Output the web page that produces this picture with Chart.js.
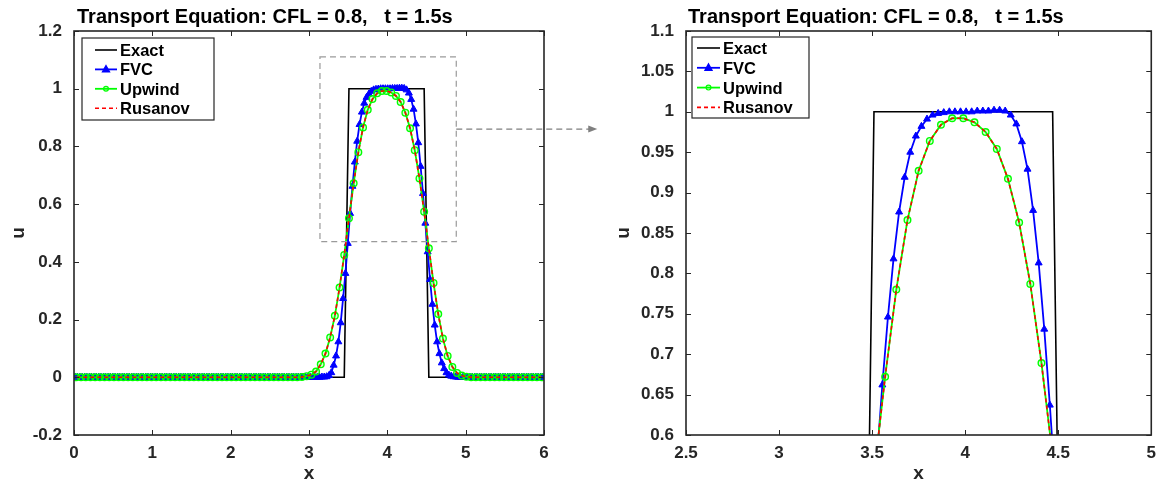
<!DOCTYPE html>
<html>
<head>
<meta charset="utf-8">
<script src="https://cdn.jsdelivr.net/npm/chart.js@4.4.1/dist/chart.umd.min.js"></script>
<style>
  html, body { margin: 0; padding: 0; background: #fff; }
  #wrap { position: relative; width: 1164px; height: 486px; }
  #cL { position: absolute; left: 0; top: 0; }
  #cR { position: absolute; left: 600px; top: 0; }
</style>
</head>
<body>
<div id="wrap">
  <canvas id="cL" width="600" height="486"></canvas>
  <canvas id="cR" width="564" height="486"></canvas>
</div>
<script>
const TITLE = "Transport Equation: CFL = 0.8,   t = 1.5s";
const seriesNames = ["Exact", "FVC", "Upwind", "Rusanov"];

// grids: Exact / Upwind / Rusanov on 100 cells, FVC on 200 cells over [0, 6]
const xCoarse = Array.from({ length: 100 }, (_, i) => +(0.03 + 0.06 * i).toFixed(3));
const xFine = Array.from({ length: 200 }, (_, i) => +(0.015 + 0.03 * i).toFixed(3));

const exactU = [
  0,0,0,0,0,0,0,0,0,0, 0,0,0,0,0,0,0,0,0,0, 0,0,0,0,0,0,0,0,0,0, 0,0,0,0,0,0,0,0,0,0,
  0,0,0,0,0,0,0,0,0,0, 0,0,0,0,0,0,0,0,1,1, 1,1,1,1,1,1,1,1,1,1, 1,1,1,1,1,0,0,0,0,0,
  0,0,0,0,0,0,0,0,0,0, 0,0,0,0,0,0,0,0,0,0
];

const upwindU = [
  0,0,0,0,0,0,0,0,0,0, 0,0,0,0,0,0,0,0,0,0, 0,0,0,0,0,0,0,0,0,0, 0,0,0,0,0,0,0,0,0,0,
  0,0,0,0,0,0,0,0,0.001,0.004,
  0.009,0.020,0.045,0.082,0.138,0.213,0.311,0.424,0.551,0.672,
  0.780,0.866,0.927,0.964,0.984,0.992,0.992,0.987,0.975,0.954,
  0.917,0.863,0.787,0.689,0.574,0.447,0.327,0.219,0.134,0.074,
  0.036,0.015,0.006,0.002,0,0,0,0,0,0,
  0,0,0,0,0,0,0,0,0,0
];

const rusanovU = [
  0,0,0,0,0,0,0,0,0,0, 0,0,0,0,0,0,0,0,0,0, 0,0,0,0,0,0,0,0,0,0, 0,0,0,0,0,0,0,0,0,0,
  0,0,0,0,0,0,0,0,0.001,0.004,
  0.009,0.020,0.045,0.082,0.138,0.213,0.311,0.424,0.551,0.672,
  0.780,0.866,0.927,0.964,0.984,0.992,0.992,0.987,0.975,0.954,
  0.917,0.863,0.787,0.689,0.574,0.447,0.327,0.219,0.134,0.074,
  0.036,0.015,0.006,0.002,0,0,0,0,0,0,
  0,0,0,0,0,0,0,0,0,0
];

const fvcU = [
  0,0,0,0,0,0,0,0,0,0, 0,0,0,0,0,0,0,0,0,0, 0,0,0,0,0,0,0,0,0,0, 0,0,0,0,0,0,0,0,0,0,
  0,0,0,0,0,0,0,0,0,0, 0,0,0,0,0,0,0,0,0,0, 0,0,0,0,0,0,0,0,0,0, 0,0,0,0,0,0,0,0,0,0,
  0,0,0,0,0,0,0,0,0,0, 0,0,0,0,0,0,0,0,0,0,
  0,0,0,0,0,0.001,0.001,0.002,0.006,0.016,
  0.042,0.074,0.123,0.189,0.273,0.360,0.464,0.568,0.662,0.746,
  0.818,0.876,0.919,0.950,0.970,0.982,0.991,0.996,0.998,0.999,
  1.000,1.000,1.000,1.000,1.000,1.001,1.001,1.001,1.002,1.002,
  1.001,0.996,0.985,0.963,0.929,0.878,0.813,0.731,0.637,0.534,
  0.435,0.339,0.253,0.181,0.123,0.082,0.050,0.030,0.016,0.008,
  0.004,0.002,0.001,0,0,0,0,0,0,0,
  0,0,0,0,0,0,0,0,0,0, 0,0,0,0,0,0,0,0,0,0, 0,0,0,0,0,0,0,0,0,0
];

// axes
const xTicksLeft = [0, 1, 2, 3, 4, 5, 6];
const xTickLabelsLeft = ["0", "1", "2", "3", "4", "5", "6"];
const yTicksLeft = [-0.2, 0, 0.2, 0.4, 0.6, 0.8, 1, 1.2];
const yTickLabelsLeft = ["-0.2", "0", "0.2", "0.4", "0.6", "0.8", "1", "1.2"];
const xTicksRight = [2.5, 3, 3.5, 4, 4.5, 5];
const xTickLabelsRight = ["2.5", "3", "3.5", "4", "4.5", "5"];
const yTicksRight = [0.6, 0.65, 0.7, 0.75, 0.8, 0.85, 0.9, 0.95, 1, 1.05, 1.1];
const yTickLabelsRight = ["0.6", "0.65", "0.7", "0.75", "0.8", "0.85", "0.9", "0.95", "1", "1.05", "1.1"];

const FONT = '"Liberation Sans", Arial, Helvetica, sans-serif';
const AXIS_COLOR = "#262626";
Chart.defaults.font.family = FONT;

const toXY = (xs, ys) => xs.map((x, i) => ({ x: x, y: ys[i] }));

function line(ctx, x0, y0, x1, y1) {
  ctx.beginPath();
  ctx.moveTo(x0, y0);
  ctx.lineTo(x1, y1);
  ctx.stroke();
}

function drawMarker(ctx, style, cx, cy, r, fill, stroke) {
  ctx.save();
  ctx.setLineDash([]);
  ctx.fillStyle = fill;
  ctx.strokeStyle = stroke;
  ctx.lineWidth = 1.2;
  ctx.beginPath();
  if (style === "triangle") {
    ctx.moveTo(cx, cy - r * 1.1);
    ctx.lineTo(cx + r, cy + r * 0.7);
    ctx.lineTo(cx - r, cy + r * 0.7);
    ctx.closePath();
  } else {
    ctx.arc(cx, cy, r, 0, Math.PI * 2);
  }
  ctx.fill();
  ctx.stroke();
  ctx.restore();
}

// box, inner ticks, title, legend, zoom annotation
const framePlugin = {
  id: "frame",
  afterDatasetsDraw(chart, args, opts) {
    const { ctx, chartArea: a, scales: { x, y } } = chart;
    ctx.save();

    if (opts.zoomBox) {
      const z = opts.zoomBox;
      const x0 = x.getPixelForValue(z.x0), x1 = x.getPixelForValue(z.x1);
      const y0 = y.getPixelForValue(z.y1), y1 = y.getPixelForValue(z.y0);
      ctx.strokeStyle = "#9a9a9a";
      ctx.lineWidth = 1.2;
      ctx.setLineDash([6, 4]);
      ctx.strokeRect(x0, y0, x1 - x0, y1 - y0);
      // dashed arrow toward the zoomed view
      const ay = y.getPixelForValue(z.arrowY);
      const ax1 = x.getPixelForValue(z.arrowToX);
      ctx.strokeStyle = "#7f7f7f";
      line(ctx, x1, ay, ax1 - 6, ay);
      ctx.setLineDash([]);
      ctx.fillStyle = "#7f7f7f";
      ctx.beginPath();
      ctx.moveTo(ax1, ay);
      ctx.lineTo(ax1 - 9, ay - 3.5);
      ctx.lineTo(ax1 - 9, ay + 3.5);
      ctx.closePath();
      ctx.fill();
    }

    ctx.setLineDash([]);
    ctx.strokeStyle = AXIS_COLOR;
    ctx.lineWidth = 1;
    const tl = 5;
    x.ticks.forEach(t => {
      const px = Math.round(x.getPixelForValue(t.value)) + 0.5;
      line(ctx, px, a.bottom, px, a.bottom - tl);
      line(ctx, px, a.top, px, a.top + tl);
    });
    y.ticks.forEach(t => {
      const py = Math.round(y.getPixelForValue(t.value)) + 0.5;
      line(ctx, a.left, py, a.left + tl, py);
      line(ctx, a.right, py, a.right - tl, py);
    });
    ctx.lineWidth = 1.6;
    ctx.strokeRect(a.left, a.top, a.right - a.left, a.bottom - a.top);
    ctx.restore();
  },
  afterDraw(chart, args, opts) {
    const { ctx, chartArea: a } = chart;
    ctx.save();
    // title
    ctx.fillStyle = "#000";
    ctx.font = "bold 20px " + FONT;
    ctx.textAlign = "left";
    ctx.textBaseline = "alphabetic";
    ctx.fillText(TITLE, a.left + opts.titleDX, 23);

    // legend
    const L = opts.legend;
    const bx = a.left + L.dx, by = a.top + L.dy;
    ctx.fillStyle = "#fff";
    ctx.fillRect(bx, by, L.w, L.h);
    ctx.strokeStyle = AXIS_COLOR;
    ctx.lineWidth = 1.2;
    ctx.strokeRect(bx, by, L.w, L.h);
    ctx.font = "bold 16.5px " + FONT;
    chart.data.datasets.forEach((ds, i) => {
      const ry = by + L.row0 + i * L.rowGap;
      const s0 = bx + L.sample0, s1 = bx + L.sample1;
      ctx.strokeStyle = ds.borderColor;
      ctx.lineWidth = ds.borderWidth;
      ctx.setLineDash(ds.borderDash || []);
      line(ctx, s0, ry, s1, ry);
      ctx.setLineDash([]);
      if (ds.pointRadius > 0) {
        drawMarker(ctx, ds.pointStyle, (s0 + s1) / 2, ry, ds.pointStyle === "triangle" ? 3.6 : 2.4,
          ds.pointBackgroundColor, ds.pointBorderColor);
      }
      ctx.fillStyle = "#000";
      ctx.fillText(ds.label, bx + L.text, ry + 6);
    });
    ctx.restore();
  }
};

function makeChart(id, cfg) {
  const ctx = document.getElementById(id).getContext("2d");
  return new Chart(ctx, {
    type: "line",
    data: {
      datasets: [
        {
          label: seriesNames[0], data: toXY(xCoarse, exactU),
          borderColor: "#000000", borderWidth: 1.6, pointRadius: 0, order: 3
        },
        {
          label: seriesNames[1], data: toXY(xFine, fvcU),
          borderColor: "#0000ff", borderWidth: 1.8,
          pointStyle: "triangle", pointRadius: 4,
          pointBackgroundColor: "#0000ff", pointBorderColor: "#0000ff", pointBorderWidth: 1,
          order: 2
        },
        {
          label: seriesNames[2], data: toXY(xCoarse, upwindU),
          borderColor: "#00ff00", borderWidth: 1.8,
          pointStyle: "circle", pointRadius: 3.3,
          pointBackgroundColor: "rgba(0,255,0,0.15)", pointBorderColor: "#00ff00", pointBorderWidth: 1.4,
          order: 1
        },
        {
          label: seriesNames[3], data: toXY(xCoarse, rusanovU),
          borderColor: "#ff0000", borderWidth: 1.6, borderDash: [4, 3], pointRadius: 0, order: 0
        }
      ]
    },
    options: {
      responsive: false,
      animation: false,
      devicePixelRatio: 1,
      layout: { padding: { top: 31, right: cfg.padRight, left: 0, bottom: 0 } },
      elements: { line: { tension: 0 } },
      scales: {
        x: {
          type: "linear", min: cfg.xMin, max: cfg.xMax,
          afterBuildTicks: s => { s.ticks = cfg.xTicks.map(v => ({ value: v })); },
          afterFit: s => { s.height = 51; },
          grid: { display: false, drawTicks: false },
          border: { display: false },
          ticks: {
            autoSkip: false, maxRotation: 0, padding: 8, color: AXIS_COLOR,
            font: { size: 17, weight: "bold" },
            callback: (v, i) => cfg.xLabels[i]
          },
          title: {
            display: true, text: "x", color: AXIS_COLOR,
            font: { size: 19, weight: "bold" }, padding: { top: 0, bottom: 1 }
          }
        },
        y: {
          type: "linear", min: cfg.yMin, max: cfg.yMax,
          afterBuildTicks: s => { s.ticks = cfg.yTicks.map(v => ({ value: v })); },
          afterFit: s => { s.width = cfg.yAxisW; },
          grid: { display: false, drawTicks: false },
          border: { display: false },
          ticks: {
            autoSkip: false, padding: 12, color: AXIS_COLOR,
            font: { size: 17, weight: "bold" },
            callback: (v, i) => cfg.yLabels[i]
          },
          title: {
            display: true, text: "u", color: AXIS_COLOR,
            font: { size: 19, weight: "bold" }, padding: { top: cfg.uPad, bottom: 0 }
          }
        }
      },
      plugins: {
        legend: { display: false },
        tooltip: { enabled: false },
        frame: {
          titleDX: cfg.titleDX,
          legend: cfg.legend,
          zoomBox: cfg.zoomBox
        }
      }
    },
    plugins: [framePlugin]
  });
}

makeChart("cL", {
  xMin: 0, xMax: 6, yMin: -0.2, yMax: 1.2,
  xTicks: xTicksLeft, xLabels: xTickLabelsLeft,
  yTicks: yTicksLeft, yLabels: yTickLabelsLeft,
  padRight: 56, yAxisW: 74, uPad: 7, titleDX: 3,
  legend: { dx: 8, dy: 7, w: 132, h: 82, row0: 12, rowGap: 19.4, sample0: 13, sample1: 35, text: 38 },
  zoomBox: { x0: 3.14, x1: 4.88, y0: 0.47, y1: 1.11, arrowY: 0.86, arrowToX: 6.68 }
});

makeChart("cR", {
  xMin: 2.5, xMax: 5, yMin: 0.6, yMax: 1.1,
  xTicks: xTicksRight, xLabels: xTickLabelsRight,
  yTicks: yTicksRight, yLabels: yTickLabelsRight,
  padRight: 8, yAxisW: 86, uPad: 12, titleDX: 2,
  legend: { dx: 6, dy: 6, w: 117, h: 81, row0: 11, rowGap: 19.8, sample0: 5, sample1: 28, text: 31 },
  zoomBox: null
});
</script>
</body>
</html>
